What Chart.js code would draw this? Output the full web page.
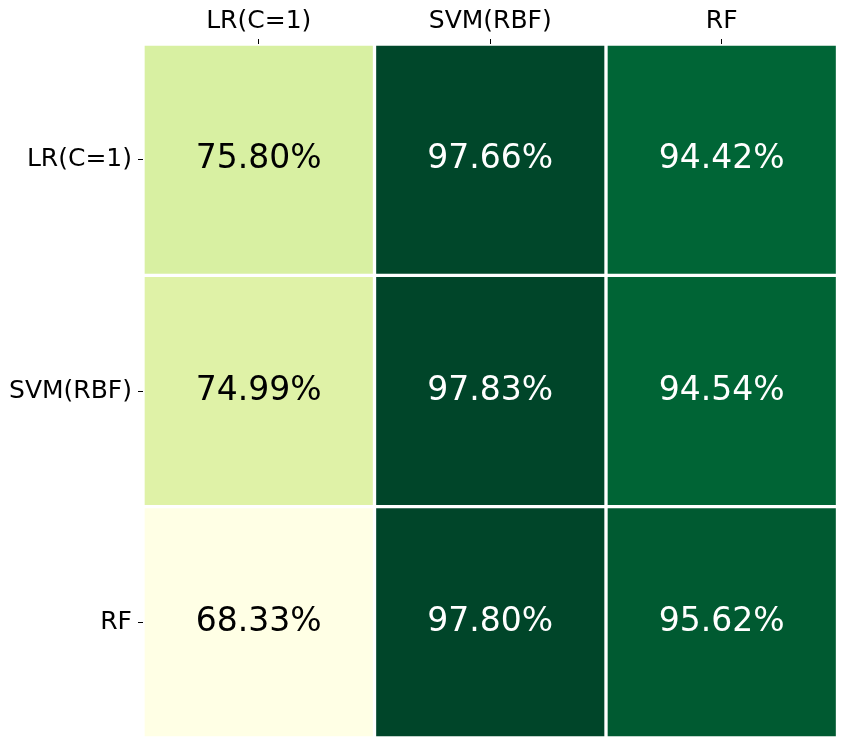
<!DOCTYPE html>
<html>
<head>
<meta charset="utf-8">
<script src="https://cdn.jsdelivr.net/npm/chart.js@4.4.0/dist/chart.umd.min.js"></script>
<style>
  body { margin: 0; background: #fff; }
  #wrap { width: 847px; height: 748px; }
</style>
</head>
<body>
<div id="wrap"><canvas id="heat" width="847" height="748"></canvas></div>
<script>
// labels for the columns (top) and rows (left)
var colLabels = ['LR(C=1)', 'SVM(RBF)', 'RF'];
var rowLabels = ['LR(C=1)', 'SVM(RBF)', 'RF'];

// accuracy values, one array per row
var rowLR = [75.80, 97.66, 94.42];
var rowSVM = [74.99, 97.83, 94.54];
var rowRF = [68.33, 97.80, 95.62];
var grid = [rowLR, rowSVM, rowRF];

// YlGn colormap
var ylgn = ['#ffffe5', '#f7fcb9', '#d9f0a3', '#addd8e', '#78c679', '#41ab5d', '#238443', '#006837', '#004529'];

var all = [].concat(rowLR, rowSVM, rowRF);
var vmin = Math.min.apply(null, all);
var vmax = Math.max.apply(null, all);

function norm(v) { return (v - vmin) / (vmax - vmin); }

function hex(h) {
  return [parseInt(h.substr(1, 2), 16), parseInt(h.substr(3, 2), 16), parseInt(h.substr(5, 2), 16)];
}

function cmap(v) {
  var t = norm(v) * (ylgn.length - 1);
  var i = Math.min(Math.floor(t), ylgn.length - 2);
  var f = t - i;
  var a = hex(ylgn[i]), b = hex(ylgn[i + 1]);
  var c = a.map(function (x, k) { return Math.round(x + (b[k] - x) * f); });
  return 'rgb(' + c.join(',') + ')';
}

// one stacked dataset per row, each cell has height 1
var datasets = grid.map(function (row, r) {
  return {
    label: rowLabels[r],
    data: row.map(function () { return 1; }),
    values: row,
    backgroundColor: row.map(cmap),
    borderColor: '#ffffff',
    borderWidth: 2,
    borderSkipped: false,
    barPercentage: 1,
    categoryPercentage: 1
  };
});

// write the percentage in the middle of each cell
var cellText = {
  id: 'cellText',
  afterDatasetsDraw: function (chart) {
    var ctx = chart.ctx;
    ctx.save();
    ctx.font = '33px "DejaVu Sans"';
    ctx.textAlign = 'center';
    ctx.textBaseline = 'middle';
    chart.data.datasets.forEach(function (ds, d) {
      chart.getDatasetMeta(d).data.forEach(function (el, i) {
        var v = ds.values[i];
        ctx.fillStyle = norm(v) > 0.5 ? '#ffffff' : '#000000';
        ctx.fillText(v.toFixed(2) + '%', el.x, (el.y + el.base) / 2);
      });
    });
    ctx.restore();
  }
};

var tickFont = { family: 'DejaVu Sans', size: 25 };

new Chart(document.getElementById('heat').getContext('2d'), {
  type: 'bar',
  data: { labels: colLabels, datasets: datasets },
  options: {
    responsive: false,
    animation: false,
    layout: { padding: { top: 0, left: 0, right: 9.5, bottom: 10 } },
    plugins: { legend: { display: false }, tooltip: { enabled: false } },
    scales: {
      x: {
        type: 'category',
        position: 'top',
        stacked: true,
        offset: true,
        border: { display: false },
        grid: { offset: false, drawOnChartArea: false, drawTicks: true, tickLength: 5, tickColor: '#000', lineWidth: 1 },
        ticks: { color: '#000', font: tickFont, padding: 3, maxRotation: 0 },
        afterFit: function (s) { s.height = 44; s.paddingLeft = 0; s.paddingRight = 0; }
      },
      y: {
        type: 'linear',
        stacked: true,
        reverse: true,
        min: 0,
        max: 3,
        border: { display: false },
        grid: { drawOnChartArea: false, drawTicks: true, tickLength: 5, tickColor: '#000', lineWidth: 1 },
        afterBuildTicks: function (s) {
          s.ticks = [0.5, 1.5, 2.5].map(function (v) { return { value: v }; });
        },
        ticks: {
          color: '#000',
          font: tickFont,
          padding: 6,
          callback: function (v) { return rowLabels[Math.floor(v)]; }
        },
        afterFit: function (s) { s.width = 143; s.paddingTop = 0; s.paddingBottom = 0; }
      }
    }
  },
  plugins: [cellText]
});
</script>
</body>
</html>
